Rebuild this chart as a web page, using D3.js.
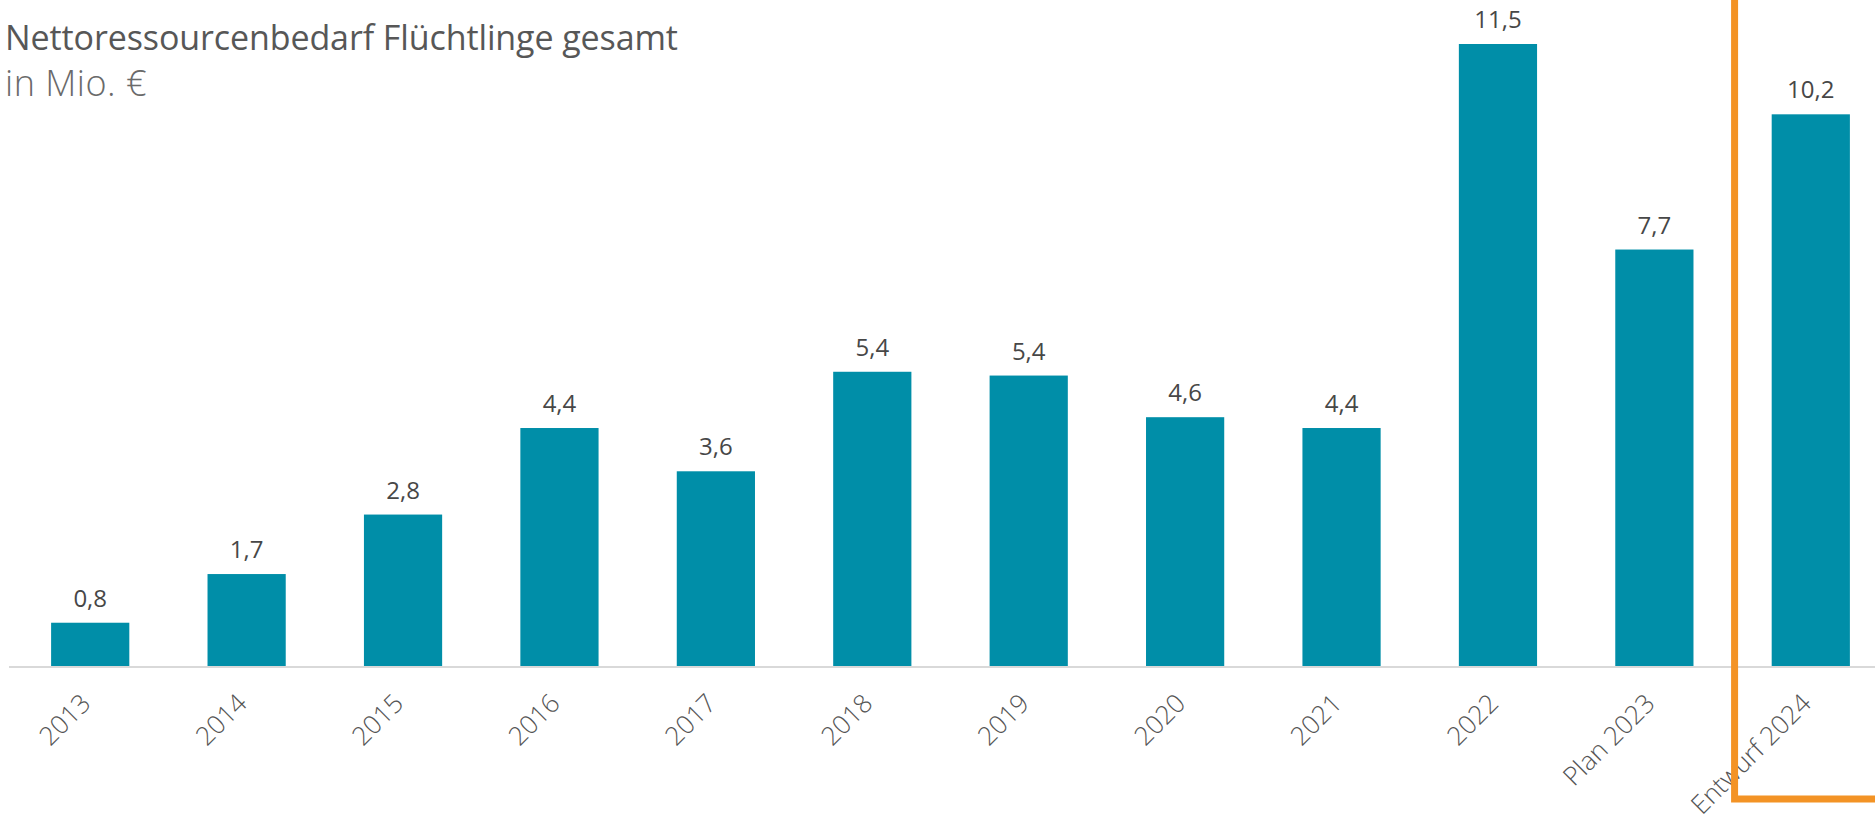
<!DOCTYPE html>
<html>
<head>
<meta charset="utf-8">
<script src="https://cdn.jsdelivr.net/npm/d3@7"></script>
<style>
  body { margin: 0; background: #fff; }
  svg { display: block; font-family: "Open Sans", sans-serif; }
  .title { fill: #575757; font-size: 34px; letter-spacing: -0.1px; }
  .subtitle { fill: #6a6a6a; font-size: 36px; font-weight: 300; letter-spacing: 0.5px; }
  .value { fill: #474747; font-size: 24px; }
  .xlab text { fill: #555; font-size: 26px; font-weight: 300; }
</style>
</head>
<body>
<div id="chart"></div>
<script>
(function() {
  var width = 1875, height = 821;

  // data
  var categories = ["2013", "2014", "2015", "2016", "2017", "2018", "2019", "2020", "2021", "2022", "Plan 2023", "Entwurf 2024"];
  var values = [0.8, 1.7, 2.8, 4.4, 3.6, 5.44, 5.37, 4.6, 4.4, 11.5, 7.7, 10.2];
  var highlighted = "Entwurf 2024";

  var svg = d3.select("#chart")
            .append("svg")
            .attr("width", width)
            .attr("height", height);

  var x = d3.scaleBand()
      .domain(categories)
      .range([12, 1889])
      .paddingInner(0.5)
      .paddingOuter(0.25);

  var y = d3.scaleLinear()
      .domain([0, 11.5])
      .range([666, 44]);

  var fmt = function(v) { return d3.format(".1f")(v).replace(".", ","); };

  /* bars */
  svg.selectAll(".bar")
      .data(values)
      .enter()
      .append("rect")
      .attr("class", "bar")
      .attr("x", function(d, i) { return x(categories[i]); })
      .attr("width", x.bandwidth())
      .attr("y", function(d) { return y(d); })
      .attr("height", function(d) { return y(0) - y(d); })
      .attr("fill", "#008ea8");

  /* value labels */
  svg.selectAll(".value")
      .data(values)
      .enter()
      .append("text")
      .attr("class", "value")
      .attr("text-anchor", "middle")
      .attr("x", function(d, i) { return x(categories[i]) + x.bandwidth() / 2; })
      .attr("y", function(d) { return y(d) - 16; })
      .text(fmt);

  /* baseline */
  svg.append("line")
      .attr("x1", 9).attr("x2", width)
      .attr("y1", y(0) + 1).attr("y2", y(0) + 1)
      .attr("stroke", "#d9d9d9")
      .attr("stroke-width", 2);

  /* x axis, labels rotated */
  var xAxis = d3.axisBottom(x).tickSize(0).tickPadding(0);
  var gx = svg.append("g")
      .attr("class", "xlab")
      .attr("transform", "translate(0," + (y(0) + 1) + ")")
      .call(xAxis)
      .attr("font-family", null)
      .attr("font-size", null);
  gx.select(".domain").remove();
  gx.selectAll("text")
      .attr("y", null).attr("dy", null)
      .attr("fill", null)
      .attr("text-anchor", "end")
      .attr("transform", "translate(2,38) rotate(-45)");

  /* highlight frame round the draft year */
  var hx = x(highlighted) - (x.step() - x.bandwidth()) / 2 + 2;
  svg.append("path")
      .attr("d", "M" + hx + ",-10 V799 H" + (width + 10))
      .attr("fill", "none")
      .attr("stroke", "#f39325")
      .attr("stroke-width", 7);

  /* titles */
  svg.append("text")
      .attr("class", "title")
      .attr("x", 5).attr("y", 50)
      .text("Nettoressourcenbedarf Flüchtlinge gesamt");
  svg.append("text")
      .attr("class", "subtitle")
      .attr("x", 5).attr("y", 96)
      .text("in Mio. €");
})();
</script>
</body>
</html>
